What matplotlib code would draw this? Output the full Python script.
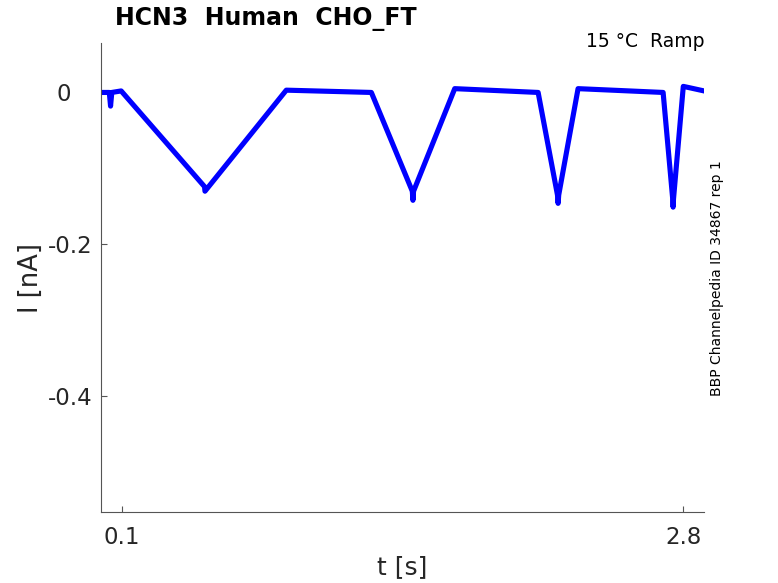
import matplotlib
matplotlib.use("Agg")
import matplotlib.pyplot as plt
from matplotlib.transforms import ScaledTranslation

# trace breakpoints (t in s, I in nA)
t_pts = [0.0, 0.04, 0.046, 0.052, 0.097, 0.498, 0.50, 0.891, 1.30, 1.497, 1.50, 1.503,
         1.701, 2.102, 2.195, 2.198, 2.201, 2.294, 2.703, 2.749, 2.751, 2.753, 2.80, 2.9]
i_pts = [0.0, 0.0, -0.018, 0.0, 0.002, -0.124, -0.13, 0.003, 0.0, -0.13, -0.142, -0.13,
         0.005, 0.0, -0.135, -0.146, -0.135, 0.005, 0.0, -0.14, -0.151, -0.14, 0.008, 0.002]

xticks = [0.1, 2.8]
xticklabels = ["0.1", "2.8"]
yticks = [0.0, -0.2, -0.4]
yticklabels = ["0", "-0.2", "-0.4"]

title = "HCN3  Human  CHO_FT"
cond = "15 °C  Ramp"
source = "BBP Channelpedia ID 34867 rep 1"

fig = plt.figure(figsize=(7.78, 5.83), dpi=100)
ax = fig.add_axes([0.1298, 0.1213, 0.7752, 0.8047])

ax.plot(t_pts, i_pts, color=(0, 0, 1), lw=3.7, solid_joinstyle="round")

ax.set_xlim(0.0, 2.9)
ax.set_ylim(-0.5526, 0.0649)
ax.set_xticks(xticks)
ax.set_xticklabels(xticklabels)
ax.set_yticks(yticks)
ax.set_yticklabels(yticklabels)

for s in ["top", "right"]:
    ax.spines[s].set_visible(False)
for s in ["left", "bottom"]:
    ax.spines[s].set_color("#555555")
    ax.spines[s].set_linewidth(0.8)
ax.tick_params(direction="in", length=4.5, width=0.8, color="#555555",
               labelsize=16.5, labelcolor="#262626")
ax.tick_params(axis="x", pad=10)
ax.tick_params(axis="y", pad=6)

# the zero label sits further left in the original
zero_lbl = ax.get_yticklabels()[0]
zero_lbl.set_transform(zero_lbl.get_transform() + ScaledTranslation(-0.22, 0, fig.dpi_scale_trans))

ax.set_xlabel("t [s]", fontsize=18, color="#262626", labelpad=4)
ax.set_ylabel("I [nA]", fontsize=18.5, color="#262626", labelpad=3)

fig.text(0.148, 0.968, title, fontsize=17, fontweight="bold", ha="left", va="center")
fig.text(0.905, 0.929, cond, fontsize=13.5, ha="right", va="center")
fig.text(0.921, 0.523, source, fontsize=10, rotation=90, ha="center", va="center")

fig.savefig("out.png", dpi=100)
